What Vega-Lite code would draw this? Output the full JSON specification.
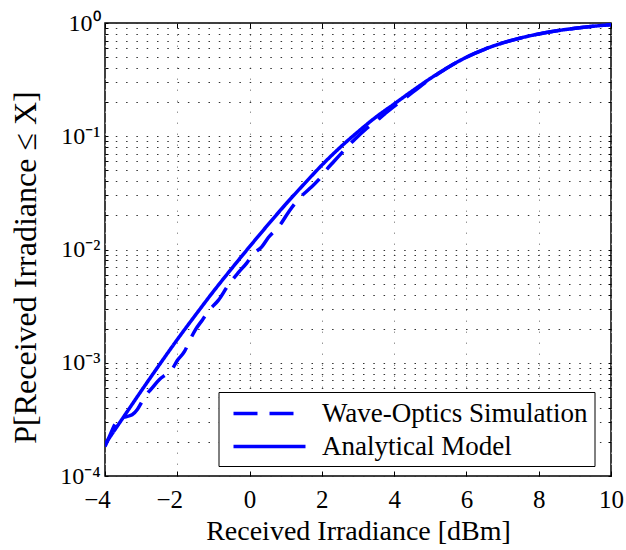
{
  "$schema": "https://vega.github.io/schema/vega-lite/v6.json",
  "autosize": "none",
  "width": 506,
  "height": 453,
  "padding": {"left": 105, "top": 23, "right": 15, "bottom": 74},
  "background": "white",
  "config": {
    "view": {"stroke": "black", "strokeWidth": 1.5},
    "font": "Liberation Serif"
  },
  "datasets": {
    "curves": [
      {"x": -4.0, "p": 0.000182, "series": "Wave-Optics Simulation"},
      {"x": -3.85, "p": 0.000234, "series": "Wave-Optics Simulation"},
      {"x": -3.7, "p": 0.000295, "series": "Wave-Optics Simulation"},
      {"x": -3.55, "p": 0.000324, "series": "Wave-Optics Simulation"},
      {"x": -3.4, "p": 0.000335, "series": "Wave-Optics Simulation"},
      {"x": -3.25, "p": 0.000347, "series": "Wave-Optics Simulation"},
      {"x": -3.1, "p": 0.000389, "series": "Wave-Optics Simulation"},
      {"x": -2.95, "p": 0.000468, "series": "Wave-Optics Simulation"},
      {"x": -2.8, "p": 0.00055, "series": "Wave-Optics Simulation"},
      {"x": -2.7, "p": 0.000596, "series": "Wave-Optics Simulation"},
      {"x": -2.5, "p": 0.000708, "series": "Wave-Optics Simulation"},
      {"x": -2.3, "p": 0.000794, "series": "Wave-Optics Simulation"},
      {"x": -2.15, "p": 0.000871, "series": "Wave-Optics Simulation"},
      {"x": -2.0, "p": 0.001047, "series": "Wave-Optics Simulation"},
      {"x": -1.8, "p": 0.001259, "series": "Wave-Optics Simulation"},
      {"x": -1.65, "p": 0.001585, "series": "Wave-Optics Simulation"},
      {"x": -1.5, "p": 0.00195, "series": "Wave-Optics Simulation"},
      {"x": -1.3, "p": 0.0024, "series": "Wave-Optics Simulation"},
      {"x": -1.1, "p": 0.00295, "series": "Wave-Optics Simulation"},
      {"x": -0.86, "p": 0.00357, "series": "Wave-Optics Simulation"},
      {"x": -0.6, "p": 0.00479, "series": "Wave-Optics Simulation"},
      {"x": -0.3, "p": 0.00631, "series": "Wave-Optics Simulation"},
      {"x": -0.08, "p": 0.00759, "series": "Wave-Optics Simulation"},
      {"x": 0.1, "p": 0.00912, "series": "Wave-Optics Simulation"},
      {"x": 0.336, "p": 0.01054, "series": "Wave-Optics Simulation"},
      {"x": 0.52, "p": 0.01276, "series": "Wave-Optics Simulation"},
      {"x": 0.84, "p": 0.01641, "series": "Wave-Optics Simulation"},
      {"x": 1.1, "p": 0.02188, "series": "Wave-Optics Simulation"},
      {"x": 1.4, "p": 0.02884, "series": "Wave-Optics Simulation"},
      {"x": 1.67, "p": 0.03467, "series": "Wave-Optics Simulation"},
      {"x": 1.9, "p": 0.0409, "series": "Wave-Optics Simulation"},
      {"x": 2.1, "p": 0.0495, "series": "Wave-Optics Simulation"},
      {"x": 2.32, "p": 0.0593, "series": "Wave-Optics Simulation"},
      {"x": 2.6, "p": 0.0741, "series": "Wave-Optics Simulation"},
      {"x": 2.9, "p": 0.0933, "series": "Wave-Optics Simulation"},
      {"x": 3.2, "p": 0.1146, "series": "Wave-Optics Simulation"},
      {"x": 3.47, "p": 0.1337, "series": "Wave-Optics Simulation"},
      {"x": 3.75, "p": 0.1585, "series": "Wave-Optics Simulation"},
      {"x": 3.98, "p": 0.1816, "series": "Wave-Optics Simulation"},
      {"x": 4.35, "p": 0.2223, "series": "Wave-Optics Simulation"},
      {"x": 4.7, "p": 0.2723, "series": "Wave-Optics Simulation"},
      {"x": 5.0, "p": 0.3199, "series": "Wave-Optics Simulation"},
      {"x": 5.5, "p": 0.4074, "series": "Wave-Optics Simulation"},
      {"x": 6.0, "p": 0.4989, "series": "Wave-Optics Simulation"},
      {"x": 6.5, "p": 0.5861, "series": "Wave-Optics Simulation"},
      {"x": 7.0, "p": 0.6668, "series": "Wave-Optics Simulation"},
      {"x": 7.5, "p": 0.7379, "series": "Wave-Optics Simulation"},
      {"x": 8.0, "p": 0.7998, "series": "Wave-Optics Simulation"},
      {"x": 8.5, "p": 0.8531, "series": "Wave-Optics Simulation"},
      {"x": 9.0, "p": 0.8974, "series": "Wave-Optics Simulation"},
      {"x": 9.5, "p": 0.9354, "series": "Wave-Optics Simulation"},
      {"x": 10.0, "p": 0.966, "series": "Wave-Optics Simulation"},
      {"x": -4.0, "p": 0.0001905, "series": "Analytical Model"},
      {"x": -3.5, "p": 0.0003273, "series": "Analytical Model"},
      {"x": -3.0, "p": 0.0005623, "series": "Analytical Model"},
      {"x": -2.5, "p": 0.000955, "series": "Analytical Model"},
      {"x": -2.0, "p": 0.001603, "series": "Analytical Model"},
      {"x": -1.5, "p": 0.00263, "series": "Analytical Model"},
      {"x": -1.0, "p": 0.004266, "series": "Analytical Model"},
      {"x": -0.5, "p": 0.006761, "series": "Analytical Model"},
      {"x": 0.0, "p": 0.01059, "series": "Analytical Model"},
      {"x": 0.5, "p": 0.01641, "series": "Analytical Model"},
      {"x": 1.0, "p": 0.02512, "series": "Analytical Model"},
      {"x": 1.5, "p": 0.03758, "series": "Analytical Model"},
      {"x": 2.0, "p": 0.0556, "series": "Analytical Model"},
      {"x": 2.5, "p": 0.0794, "series": "Analytical Model"},
      {"x": 3.0, "p": 0.1096, "series": "Analytical Model"},
      {"x": 3.5, "p": 0.1479, "series": "Analytical Model"},
      {"x": 4.0, "p": 0.1928, "series": "Analytical Model"},
      {"x": 4.5, "p": 0.2512, "series": "Analytical Model"},
      {"x": 5.0, "p": 0.3236, "series": "Analytical Model"},
      {"x": 5.5, "p": 0.4074, "series": "Analytical Model"},
      {"x": 6.0, "p": 0.4989, "series": "Analytical Model"},
      {"x": 6.5, "p": 0.5861, "series": "Analytical Model"},
      {"x": 7.0, "p": 0.6668, "series": "Analytical Model"},
      {"x": 7.5, "p": 0.7379, "series": "Analytical Model"},
      {"x": 8.0, "p": 0.7998, "series": "Analytical Model"},
      {"x": 8.5, "p": 0.8531, "series": "Analytical Model"},
      {"x": 9.0, "p": 0.8974, "series": "Analytical Model"},
      {"x": 9.5, "p": 0.9354, "series": "Analytical Model"},
      {"x": 10.0, "p": 0.966, "series": "Analytical Model"}
    ]
  },
  "data": {"name": "curves"},
  "resolve": {"axis": {"x": "independent", "y": "independent"}},
  "layer": [
    {
      "mark": {"type": "line", "color": "#0000ff", "strokeWidth": 3.5, "interpolate": "monotone", "strokeCap": "butt", "clip": true},
      "encoding": {
        "x": {
          "field": "x", "type": "quantitative",
          "scale": {"domain": [-4, 10], "nice": false, "zero": false},
          "axis": {
            "orient": "bottom",
            "values": [-4, -2, 0, 2, 4, 6, 8, 10],
            "format": "d",
            "domain": false,
            "ticks": true, "tickSize": -5, "tickColor": "black", "tickWidth": 1,
            "grid": true, "gridDash": [1.5, 9.5], "gridColor": "#999999", "gridWidth": 1,
            "labelFont": "Liberation Serif", "labelFontSize": 25, "labelColor": "black",
            "labelPadding": 16, "labelFlush": false,
            "labelOffset": {"condition": {"test": "datum.value < 0", "value": -8}, "value": 0},
            "title": "Received Irradiance [dBm]",
            "titleFont": "Liberation Serif", "titleFontSize": 28, "titleFontWeight": "normal", "titleColor": "black",
            "titlePadding": 5
          }
        },
        "y": {
          "field": "p", "type": "quantitative",
          "scale": {"type": "log", "domain": [0.0001, 1], "nice": false},
          "axis": {
            "orient": "left",
            "values": [0.0001, 0.0002, 0.0003, 0.0004, 0.0005, 0.0006, 0.0007, 0.0008, 0.0009,
                       0.001, 0.002, 0.003, 0.004, 0.005, 0.006, 0.007, 0.008, 0.009,
                       0.01, 0.02, 0.03, 0.04, 0.05, 0.06, 0.07, 0.08, 0.09,
                       0.1, 0.2, 0.3, 0.4, 0.5, 0.6, 0.7, 0.8, 0.9, 1],
            "labelExpr": "datum.value == 1 ? '10⁰' : datum.value == 0.1 ? '10⁻¹' : datum.value == 0.01 ? '10⁻²' : datum.value == 0.001 ? '10⁻³' : datum.value == 0.0001 ? '10⁻⁴' : ''",
            "domain": false,
            "ticks": true,
            "tickSize": -3,
            "tickColor": "black", "tickWidth": 1,
            "grid": true, "gridDash": [1.5, 8.8], "gridColor": "#333333", "gridWidth": 1,
            "labelFont": "Liberation Serif", "labelFontSize": 24, "labelColor": "black",
            "labelPadding": 8, "labelFlush": false,
            "labelOverlap": false,
            "title": "P[Received Irradiance ≤ X]",
            "titleFont": "Liberation Serif", "titleFontSize": 32, "titleFontWeight": "normal", "titleColor": "black",
            "titleX": -80, "titleY": 244, "titleAlign": "center", "titleBaseline": "middle", "titleAngle": -90
          }
        },
        "strokeDash": {
          "field": "series", "type": "nominal",
          "scale": {"domain": ["Wave-Optics Simulation", "Analytical Model"], "range": [[24, 12], [1, 0]]},
          "legend": {
            "orient": "none", "legendX": 113.5, "legendY": 369,
            "title": null,
            "direction": "vertical",
            "symbolType": "M-2.6667,0H2.6667", "symbolSize": 729, "symbolStrokeWidth": 3.5,
            "symbolStrokeColor": "#0000ff", "symbolFillColor": "transparent",
            "labelFont": "Liberation Serif", "labelFontSize": 27, "labelColor": "black", "labelLimit": 400,
            "padding": 6, "rowPadding": 4,
            "strokeColor": "black", "fillColor": "white", "cornerRadius": 0,
            "encode": {
              "symbols": {"update": {"x": {"value": 45}}},
              "labels": {"update": {"x": {"value": 97.5}}}
            }
          }
        }
      }
    },
    {
      "mark": {"type": "line", "opacity": 0},
      "encoding": {
        "x": {
          "field": "x", "type": "quantitative",
          "axis": {"orient": "top", "values": [-4, -2, 0, 2, 4, 6, 8, 10], "labels": false, "domain": false, "grid": false, "tickSize": -5, "tickColor": "black", "title": null}
        },
        "y": {
          "field": "p", "type": "quantitative",
          "axis": {"orient": "right",
            "values": [0.0001, 0.0002, 0.0003, 0.0004, 0.0005, 0.0006, 0.0007, 0.0008, 0.0009,
                       0.001, 0.002, 0.003, 0.004, 0.005, 0.006, 0.007, 0.008, 0.009,
                       0.01, 0.02, 0.03, 0.04, 0.05, 0.06, 0.07, 0.08, 0.09,
                       0.1, 0.2, 0.3, 0.4, 0.5, 0.6, 0.7, 0.8, 0.9, 1],
            "labels": false, "domain": false, "grid": false, "tickSize": -3, "tickColor": "black", "title": null}
        },
        "detail": {"field": "series"}
      }
    }
  ]
}
